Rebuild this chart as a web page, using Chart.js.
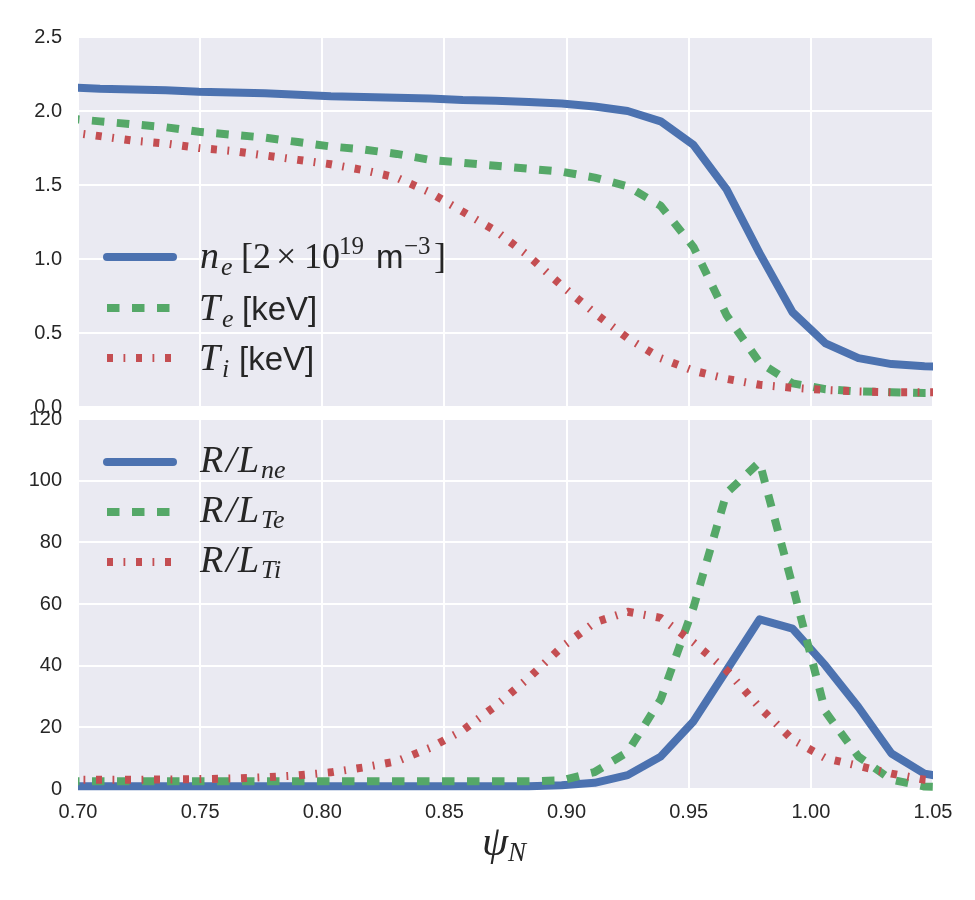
<!DOCTYPE html>
<html><head><meta charset="utf-8">
<script src="https://cdn.jsdelivr.net/npm/chart.js@4.4.0/dist/chart.umd.min.js"></script>
<style>
html,body{margin:0;padding:0;background:#fff;}
#wrap{position:relative;width:975px;height:900px;}
canvas{position:absolute;left:0;}
#c1{top:0;}
#c2{top:391px;}
</style></head><body>
<div id="wrap">
<canvas id="c1" width="975" height="435"></canvas>
<canvas id="c2" width="975" height="509"></canvas>
</div>
<script>
// ---- data ----
const psi = [0.6955, 0.709, 0.7225, 0.736, 0.7495, 0.763, 0.7765, 0.79, 0.8035, 0.817, 0.8305, 0.844, 0.8575, 0.871, 0.8845, 0.898, 0.9115, 0.925, 0.9385, 0.952, 0.9655, 0.979, 0.9925, 1.006, 1.0195, 1.033, 1.0465, 1.06];
const ne = [2.16, 2.15, 2.145, 2.14, 2.13, 2.125, 2.12, 2.11, 2.10, 2.095, 2.09, 2.085, 2.075, 2.07, 2.06, 2.05, 2.03, 2.00, 1.93, 1.77, 1.47, 1.04, 0.64, 0.43, 0.33, 0.29, 0.275, 0.27];
const Te = [1.95, 1.93, 1.91, 1.89, 1.86, 1.84, 1.82, 1.79, 1.76, 1.74, 1.71, 1.67, 1.65, 1.63, 1.61, 1.59, 1.55, 1.49, 1.36, 1.08, 0.62, 0.30, 0.16, 0.12, 0.105, 0.10, 0.095, 0.095];
const Ti = [1.86, 1.83, 1.80, 1.78, 1.75, 1.73, 1.70, 1.67, 1.64, 1.60, 1.55, 1.45, 1.32, 1.19, 1.02, 0.82, 0.635, 0.465, 0.33, 0.245, 0.19, 0.15, 0.13, 0.115, 0.105, 0.10, 0.10, 0.10];
const RLne = [0.9, 0.9, 0.9, 0.9, 0.9, 0.9, 0.9, 0.9, 0.9, 0.9, 0.9, 0.9, 0.9, 0.9, 0.9, 1.2, 2, 4.5, 10.5, 22, 38.5, 55, 52, 40, 26.5, 11.5, 5, 3];
const RLTe = [2.5, 2.5, 2.5, 2.5, 2.5, 2.5, 2.5, 2.5, 2.5, 2.5, 2.5, 2.5, 2.5, 2.5, 2.5, 2.8, 5.5, 12, 29, 59, 96, 106, 66, 25, 10.5, 3, 0.8, 0.5];
const RLTi = [3.0, 3.0, 3.0, 3.1, 3.2, 3.4, 3.8, 4.4, 5.4, 7.0, 9.0, 13.3, 19, 27, 36, 46, 54, 57.5, 55.5, 47.5, 38.5, 26.5, 16, 10, 7.5, 5, 3, 2];
const xTicks = [0.70, 0.75, 0.80, 0.85, 0.90, 0.95, 1.00, 1.05];
const yTicksTop = [0.0, 0.5, 1.0, 1.5, 2.0, 2.5];
const yTicksBottom = [0, 20, 40, 60, 80, 100, 120];

// ---- styles ----
const BLUE = '#4C72B0', GREEN = '#55A868', RED = '#C44E52';
const LW = 8;
const DASH_G = [12.5, 12.5];
const DASH_R = [6, 10.5, 1.8, 10.7];
const TXT = '#262626';
const SERIF_I = 'italic 38px "Liberation Serif"';
const SERIF_IS = 'italic 26px "Liberation Serif"';
const SERIF = '36px "Liberation Serif"';
const SERIF_S = '25px "Liberation Serif"';
const SANS = '33px "Liberation Sans"';

function pts(ys) { return psi.map((x, i) => ({x: x, y: ys[i]})); }
function ds(label, ys, color, dash, cap, order) {
  return {label, data: pts(ys), borderColor: color, borderWidth: LW, borderDash: dash,
    borderCapStyle: cap, borderJoinStyle: 'round', pointRadius: 0, tension: 0, fill: false,
    order, clip: {left: 0, right: 0, top: false, bottom: false}};
}

const bgPlugin = {
  id: 'bg',
  beforeDraw(chart) {
    const {ctx, chartArea: a} = chart;
    ctx.save(); ctx.fillStyle = '#EAEAF2';
    ctx.fillRect(a.left, a.top, a.right - a.left, a.bottom - a.top);
    ctx.restore();
  }
};

function legendPlugin(items) {
  return {
    id: 'mathLegend',
    afterDatasetsDraw(chart) {
      const ctx = chart.ctx;
      items.forEach(it => {
        ctx.save();
        ctx.strokeStyle = it.color; ctx.lineWidth = LW; ctx.setLineDash(it.dash); ctx.lineCap = it.cap;
        ctx.beginPath(); ctx.moveTo(107, it.y); ctx.lineTo(173, it.y); ctx.stroke();
        ctx.setLineDash([]);
        ctx.fillStyle = TXT; ctx.textBaseline = 'alphabetic'; ctx.textAlign = 'left';
        it.parts.forEach(p => { ctx.font = p.f; ctx.fillText(p.t, p.x, it.y + it.base + (p.dy || 0)); });
        ctx.restore();
      });
    }
  };
}

const xTitlePlugin = {
  id: 'xTitle',
  afterDraw(chart) {
    const ctx = chart.ctx;
    ctx.save(); ctx.fillStyle = TXT; ctx.textBaseline = 'alphabetic'; ctx.textAlign = 'left';
    ctx.font = 'italic 42px "Liberation Serif"'; ctx.fillText('ψ', 482, 464);
    ctx.font = 'italic 27px "Liberation Serif"'; ctx.fillText('N', 508, 470);
    ctx.restore();
  }
};

function xScale(showLabels, h) {
  return {
    type: 'linear', min: 0.70, max: 1.05,
    afterBuildTicks: s => { s.ticks = xTicks.map(v => ({value: v})); },
    afterFit: s => { s.height = h; },
    grid: {color: '#ffffff', lineWidth: 2, drawTicks: false},
    border: {display: false},
    ticks: {display: showLabels, padding: 11, color: TXT, font: {family: 'Liberation Sans', size: 20},
      callback: v => v.toFixed(2), maxRotation: 0, autoSkip: false}
  };
}
function yScale(min, max, ticks, dec) {
  return {
    type: 'linear', min, max,
    afterBuildTicks: s => { s.ticks = ticks.map(v => ({value: v})); },
    afterFit: s => { s.width = 78; },
    grid: {color: '#ffffff', lineWidth: 2, drawTicks: false},
    border: {display: false},
    ticks: {padding: 16, color: TXT, font: {family: 'Liberation Sans', size: 20},
      callback: v => v.toFixed(dec), autoSkip: false}
  };
}

const commonOpts = {responsive: false, animation: false, events: [],
  plugins: {legend: {display: false}, tooltip: {enabled: false}}};

new Chart(document.getElementById('c1'), {
  type: 'line',
  data: {datasets: [
    ds('n_e [2×10^19 m^-3]', ne, BLUE, [], 'round', 3),
    ds('T_e [keV]', Te, GREEN, DASH_G, 'butt', 2),
    ds('T_i [keV]', Ti, RED, DASH_R, 'butt', 1)
  ]},
  options: Object.assign({}, commonOpts, {
    layout: {padding: {top: 37, right: 42, bottom: 28, left: 0}},
    scales: {x: xScale(false, 0), y: yScale(0, 2.5, yTicksTop, 1)}
  }),
  plugins: [bgPlugin, legendPlugin([
    {y: 257, base: 11, color: BLUE, dash: [], cap: 'round', parts: [
      {t: 'n', x: 200, f: SERIF_I}, {t: 'e', x: 221, dy: 7, f: SERIF_IS},
      {t: '[', x: 241, f: SERIF}, {t: '2', x: 253, f: SERIF}, {t: '×', x: 276, f: SERIF},
      {t: '10', x: 304, f: SERIF}, {t: '19', x: 339, dy: -14, f: SERIF_S},
      {t: 'm', x: 376, f: SANS}, {t: '−3', x: 404, dy: -14, f: SERIF_S}, {t: ']', x: 434, f: SERIF}]},
    {y: 308, base: 12, color: GREEN, dash: DASH_G, cap: 'butt', parts: [
      {t: 'T', x: 199, f: SERIF_I}, {t: 'e', x: 222, dy: 7, f: SERIF_IS}, {t: '[keV]', x: 242, f: SANS}]},
    {y: 358, base: 12, color: RED, dash: DASH_R, cap: 'butt', parts: [
      {t: 'T', x: 199, f: SERIF_I}, {t: 'i', x: 222, dy: 7, f: SERIF_IS}, {t: '[keV]', x: 239, f: SANS}]}
  ])]
});

new Chart(document.getElementById('c2'), {
  type: 'line',
  data: {datasets: [
    ds('R/L_ne', RLne, BLUE, [], 'round', 3),
    ds('R/L_Te', RLTe, GREEN, DASH_G, 'butt', 2),
    ds('R/L_Ti', RLTi, RED, DASH_R, 'butt', 1)
  ]},
  options: Object.assign({}, commonOpts, {
    layout: {padding: {top: 28, right: 42, bottom: 0, left: 0}},
    scales: {x: xScale(true, 111), y: yScale(0, 120, yTicksBottom, 0)}
  }),
  plugins: [bgPlugin, xTitlePlugin, legendPlugin([
    {y: 71, base: 10, color: BLUE, dash: [], cap: 'round', parts: [
      {t: 'R', x: 200, f: SERIF_I}, {t: '/', x: 226, f: SERIF_I}, {t: 'L', x: 238, f: SERIF_I},
      {t: 'ne', x: 261, dy: 6, f: SERIF_IS}]},
    {y: 121, base: 10, color: GREEN, dash: DASH_G, cap: 'butt', parts: [
      {t: 'R', x: 200, f: SERIF_I}, {t: '/', x: 226, f: SERIF_I}, {t: 'L', x: 238, f: SERIF_I},
      {t: 'Te', x: 261, dy: 6, f: SERIF_IS}]},
    {y: 171, base: 10, color: RED, dash: DASH_R, cap: 'butt', parts: [
      {t: 'R', x: 200, f: SERIF_I}, {t: '/', x: 226, f: SERIF_I}, {t: 'L', x: 238, f: SERIF_I},
      {t: 'Ti', x: 261, dy: 6, f: SERIF_IS}]}
  ])]
});
</script>
</body></html>
